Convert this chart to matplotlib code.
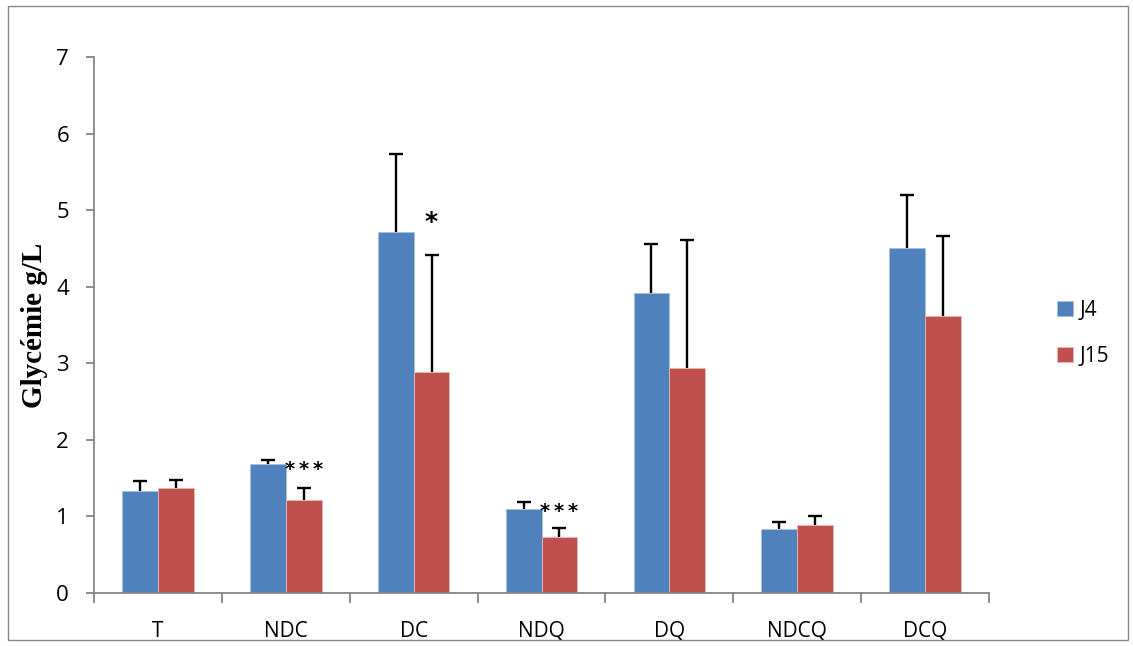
import numpy as np
import matplotlib
matplotlib.use("Agg")
import matplotlib.pyplot as plt
from matplotlib.patches import Rectangle

groups = ["T", "NDC", "DC", "NDQ", "DQ", "NDCQ", "DCQ"]
j4 = [1.33, 1.68, 4.71, 1.10, 3.92, 0.84, 4.51]
j4_err = [0.13, 0.06, 1.02, 0.09, 0.64, 0.09, 0.69]
j15 = [1.37, 1.21, 2.89, 0.73, 2.94, 0.89, 3.62]
j15_err = [0.11, 0.16, 1.52, 0.12, 1.67, 0.12, 1.04]
# significance marks: (group index, text)
marks = [(1, "***"), (2, "*"), (3, "***")]

blue = "#4F81BD"
red = "#C0504D"
grey = "#868686"

fig = plt.figure(figsize=(11.33, 6.46), dpi=100)
ax = fig.add_axes([94/1133, 53/646, 895/1133, 536/646])

x = np.arange(len(groups))
w = 0.28
ekw = dict(ecolor="black", elinewidth=1.7, capsize=5, capthick=1.7)
b1 = ax.bar(x - w/2, j4, w, color=blue, edgecolor="#A7BFDE", linewidth=0.6, label="J4",
            yerr=[np.zeros(len(j4)), j4_err], error_kw=ekw)
b2 = ax.bar(x + w/2, j15, w, color=red, edgecolor="#E6B9B8", linewidth=0.6, label="J15",
            yerr=[np.zeros(len(j15)), j15_err], error_kw=ekw)
# only the upper cap is shown
for b in (b1, b2):
    caps = b.errorbar.lines[1]
    caps[0].set_visible(False)

for i, txt in marks:
    if txt == "*":
        y = j15[i] + j15_err[i] + 0.43
        ax.text(x[i] + w/2, y, txt, ha="center", va="center", fontsize=18,
                family="DejaVu Sans", fontweight="bold")
    else:
        y = j4[i] + j4_err[i] - 0.13
        ax.text(x[i] + w/2, y, "\u2009".join(txt), ha="center", va="center",
                fontsize=14, family="DejaVu Sans", fontweight="bold")

ax.set_xlim(-0.5, len(groups) - 0.5)
ax.set_ylim(0, 7)
ax.set_yticks(range(0, 8))
ax.set_xticks(x)
ax.set_xticklabels(groups, fontsize=15, family="Open Sans")
ax.set_xticks(np.arange(-0.5, len(groups)), minor=True)
ax.tick_params(axis="x", which="major", length=0, pad=20)
ax.tick_params(axis="x", which="minor", length=7, width=1.3, color=grey, direction="out")
ax.tick_params(axis="y", length=6, width=1.3, color=grey, direction="out", labelsize=16,
               pad=12)
for lab in ax.get_yticklabels():
    lab.set_family("Open Sans")

for s in ["top", "right"]:
    ax.spines[s].set_visible(False)
for s in ["left", "bottom"]:
    ax.spines[s].set_color(grey)
    ax.spines[s].set_linewidth(1.3)

ax.set_ylabel("Glycémie g/L", fontsize=21, fontweight="bold", family="Liberation Serif",
              labelpad=6)

leg = ax.legend(loc="center left", bbox_to_anchor=(1.055, 0.485), frameon=False,
                handlelength=0.75, handleheight=0.75, labelspacing=1.2,
                handletextpad=0.35, prop={"family": "Open Sans", "size": 15})

fig.patches.append(Rectangle((8/1133, 6/646), 1120/1133, 634/646, transform=fig.transFigure,
                             fill=False, edgecolor=grey, linewidth=1))

fig.savefig("out.png", dpi=100)
